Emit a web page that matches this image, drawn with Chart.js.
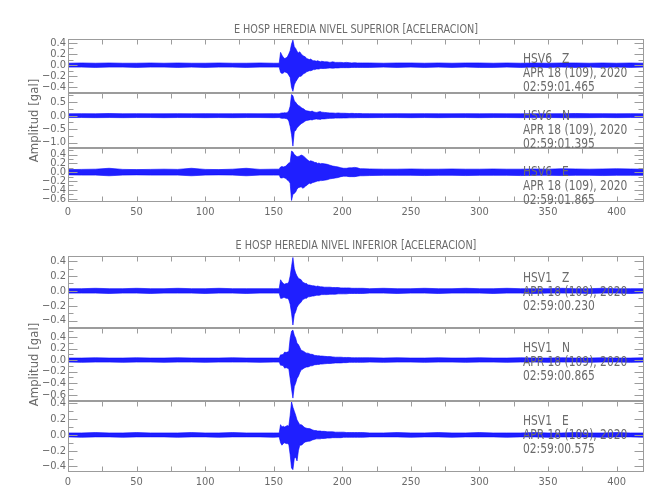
<!DOCTYPE html>
<html>
<head>
<meta charset="utf-8">
<title>E HOSP HEREDIA - aceleracion</title>
<script src="https://cdn.jsdelivr.net/npm/chart.js@4.4.1/dist/chart.umd.min.js"></script>
<style>
    body { margin: 0; background: #fff; }
    #page {
        position: relative;
        width: 650px;
        height: 500px;
        overflow: hidden;
        background: #fff;
        font-family: "DejaVu Sans Condensed", "Liberation Sans Narrow", sans-serif;
        color: #6b6b6b;
    }
    #page canvas { position: absolute; left: 0; }
    .group-title {
        position: absolute;
        left: 68px;
        width: 576px;
        text-align: center;
        font-size: 12.5px;
        line-height: 14px;
        white-space: pre;
    }
    .group-title span {
        display: inline-block;
        transform: scaleX(0.86);
        transform-origin: center;
    }
    .note {
        position: absolute;
        left: 523px;
        font-size: 13.5px;
        line-height: 14px;
        white-space: pre;
        transform: scaleX(0.88);
        transform-origin: left top;
    }
</style>
</head>
<body>
<div id="page"></div>
<script>
// Time axis (seconds) shared by all six traces
const seconds = [
    0, 10, 20, 30, 40, 50, 60, 70, 80, 90, 100, 110, 120, 130, 140, 150,
    154,
    155, 156, 157, 158, 159, 160, 161, 162, 163, 164, 165, 166, 167, 168, 169, 170,
    171, 172, 173, 174, 175, 176, 177, 178, 179, 180, 181, 182, 183, 184, 185,
    187, 189, 191, 193, 195, 197, 199, 201, 203, 205, 207, 209, 211, 213, 215,
    220, 230, 240, 250, 260, 270, 280, 290, 300, 310, 320, 330, 340, 350, 360, 370, 380, 390, 400, 410, 420
];
const timeTicks = [0, 50, 100, 150, 200, 250, 300, 350, 400];

// Envelope (max / min) of each trace in gal, read per time step
const hsv6ZUpper = [
    0.035, 0.04, 0.035, 0.04, 0.035, 0.035, 0.04, 0.035, 0.04, 0.035, 0.035, 0.04, 0.035, 0.035, 0.04, 0.035,
    0.035,
    0.23, 0.18, 0.14, 0.12, 0.13, 0.15, 0.2, 0.26, 0.38, 0.45, 0.33, 0.3, 0.25, 0.22, 0.24, 0.2,
    0.18, 0.16, 0.15, 0.12, 0.11, 0.1, 0.11, 0.09, 0.08, 0.08, 0.07, 0.08, 0.07, 0.06, 0.07,
    0.06, 0.06, 0.05, 0.06, 0.05, 0.05, 0.05, 0.045, 0.05, 0.045, 0.04, 0.045, 0.04, 0.04, 0.04,
    0.04, 0.035, 0.04, 0.04, 0.035, 0.04, 0.035, 0.04, 0.04, 0.035, 0.04, 0.035, 0.04, 0.035, 0.04, 0.04, 0.035, 0.04, 0.035, 0.04, 0.035
];
const hsv6ZLower = [
    -0.035, -0.035, -0.04, -0.035, -0.035, -0.04, -0.035, -0.035, -0.04, -0.035, -0.04, -0.035, -0.035, -0.04, -0.035, -0.035,
    -0.035,
    -0.13, -0.15, -0.14, -0.12, -0.13, -0.14, -0.18, -0.22, -0.4, -0.47, -0.35, -0.3, -0.26, -0.22, -0.2, -0.2,
    -0.17, -0.15, -0.14, -0.12, -0.11, -0.1, -0.1, -0.09, -0.08, -0.08, -0.07, -0.07, -0.07, -0.06, -0.06,
    -0.06, -0.055, -0.05, -0.055, -0.05, -0.05, -0.045, -0.045, -0.045, -0.045, -0.04, -0.04, -0.04, -0.04, -0.04,
    -0.04, -0.035, -0.04, -0.035, -0.04, -0.035, -0.04, -0.035, -0.04, -0.04, -0.035, -0.04, -0.035, -0.04, -0.035, -0.04, -0.035, -0.04, -0.035, -0.04, -0.035
];
const hsv6NUpper = [
    0.07, 0.075, 0.07, 0.08, 0.07, 0.075, 0.07, 0.07, 0.075, 0.07, 0.075, 0.07, 0.07, 0.075, 0.07, 0.075,
    0.07,
    0.09, 0.1, 0.1, 0.11, 0.1, 0.12, 0.18, 0.35, 0.78, 0.74, 0.55, 0.5, 0.42, 0.38, 0.35, 0.3,
    0.27, 0.25, 0.2, 0.18, 0.17, 0.16, 0.15, 0.17, 0.14, 0.13, 0.12, 0.13, 0.14, 0.15, 0.13,
    0.12, 0.11, 0.1, 0.1, 0.09, 0.1, 0.09, 0.09, 0.085, 0.08, 0.085, 0.08, 0.08, 0.08, 0.075,
    0.075, 0.07, 0.075, 0.07, 0.075, 0.07, 0.07, 0.075, 0.07, 0.075, 0.07, 0.07, 0.075, 0.07, 0.075, 0.08, 0.075, 0.075, 0.07, 0.075, 0.07
];
const hsv6NLower = [
    -0.07, -0.07, -0.075, -0.07, -0.075, -0.07, -0.07, -0.075, -0.07, -0.07, -0.075, -0.07, -0.075, -0.07, -0.07, -0.075,
    -0.07,
    -0.09, -0.1, -0.1, -0.1, -0.11, -0.12, -0.2, -0.4, -0.7, -1.13, -0.6, -0.55, -0.45, -0.4, -0.35, -0.3,
    -0.27, -0.24, -0.2, -0.18, -0.17, -0.16, -0.15, -0.16, -0.14, -0.13, -0.12, -0.13, -0.13, -0.14, -0.12,
    -0.12, -0.11, -0.1, -0.1, -0.09, -0.09, -0.09, -0.085, -0.085, -0.08, -0.08, -0.08, -0.075, -0.075, -0.075,
    -0.075, -0.07, -0.07, -0.075, -0.07, -0.075, -0.07, -0.07, -0.075, -0.07, -0.07, -0.075, -0.07, -0.07, -0.075, -0.08, -0.075, -0.07, -0.075, -0.07, -0.07
];
const hsv6EUpper = [
    0.06, 0.065, 0.07, 0.09, 0.065, 0.06, 0.065, 0.07, 0.065, 0.09, 0.065, 0.06, 0.07, 0.09, 0.065, 0.07,
    0.07,
    0.12, 0.13, 0.12, 0.13, 0.14, 0.18, 0.21, 0.22, 0.48, 0.46, 0.4, 0.38, 0.35, 0.36, 0.37, 0.39,
    0.38, 0.36, 0.33, 0.3, 0.27, 0.25, 0.26, 0.25, 0.24, 0.22, 0.22, 0.2, 0.21, 0.19, 0.2,
    0.19, 0.18, 0.16, 0.14, 0.13, 0.12, 0.1, 0.09, 0.09, 0.1, 0.1, 0.11, 0.1, 0.08, 0.08,
    0.075, 0.07, 0.07, 0.075, 0.07, 0.07, 0.075, 0.07, 0.07, 0.075, 0.07, 0.07, 0.075, 0.07, 0.08, 0.075, 0.07, 0.075, 0.08, 0.075, 0.07
];
const hsv6ELower = [
    -0.06, -0.065, -0.065, -0.08, -0.065, -0.06, -0.065, -0.065, -0.065, -0.08, -0.065, -0.06, -0.065, -0.08, -0.065, -0.065,
    -0.065,
    -0.13, -0.13, -0.12, -0.13, -0.14, -0.18, -0.2, -0.25, -0.64, -0.5, -0.48, -0.45, -0.38, -0.35, -0.34, -0.33,
    -0.36, -0.35, -0.32, -0.3, -0.27, -0.25, -0.26, -0.24, -0.23, -0.22, -0.21, -0.2, -0.2, -0.19, -0.19,
    -0.18, -0.17, -0.15, -0.14, -0.13, -0.12, -0.1, -0.09, -0.09, -0.1, -0.1, -0.1, -0.09, -0.08, -0.08,
    -0.075, -0.07, -0.07, -0.07, -0.075, -0.07, -0.07, -0.075, -0.07, -0.07, -0.07, -0.075, -0.07, -0.07, -0.075, -0.07, -0.07, -0.075, -0.07, -0.07, -0.07
];
const hsv1ZUpper = [
    0.03, 0.03, 0.035, 0.03, 0.03, 0.035, 0.03, 0.03, 0.035, 0.03, 0.03, 0.035, 0.03, 0.03, 0.03, 0.03,
    0.03,
    0.15, 0.12, 0.1, 0.09, 0.1, 0.1, 0.12, 0.2, 0.33, 0.45, 0.3, 0.24, 0.2, 0.17, 0.16, 0.15,
    0.12, 0.11, 0.1, 0.1, 0.08, 0.08, 0.075, 0.07, 0.07, 0.065, 0.06, 0.065, 0.06, 0.055, 0.055,
    0.05, 0.05, 0.05, 0.045, 0.045, 0.045, 0.04, 0.04, 0.04, 0.04, 0.035, 0.035, 0.035, 0.035, 0.035,
    0.03, 0.035, 0.03, 0.03, 0.035, 0.03, 0.03, 0.035, 0.03, 0.03, 0.035, 0.03, 0.03, 0.03, 0.035, 0.03, 0.03, 0.035, 0.03, 0.03, 0.03
];
const hsv1ZLower = [
    -0.03, -0.03, -0.03, -0.035, -0.03, -0.03, -0.035, -0.03, -0.03, -0.03, -0.035, -0.03, -0.03, -0.035, -0.03, -0.03,
    -0.03,
    -0.1, -0.1, -0.09, -0.09, -0.1, -0.1, -0.12, -0.18, -0.3, -0.46, -0.32, -0.28, -0.22, -0.19, -0.17, -0.15,
    -0.12, -0.11, -0.1, -0.1, -0.08, -0.08, -0.075, -0.07, -0.07, -0.065, -0.06, -0.06, -0.06, -0.055, -0.05,
    -0.05, -0.05, -0.045, -0.045, -0.045, -0.04, -0.04, -0.04, -0.04, -0.035, -0.035, -0.035, -0.035, -0.035, -0.035,
    -0.03, -0.03, -0.035, -0.03, -0.03, -0.035, -0.03, -0.03, -0.03, -0.035, -0.03, -0.03, -0.035, -0.03, -0.03, -0.03, -0.035, -0.03, -0.03, -0.035, -0.03
];
const hsv1NUpper = [
    0.035, 0.035, 0.04, 0.035, 0.035, 0.04, 0.035, 0.035, 0.04, 0.035, 0.035, 0.035, 0.04, 0.035, 0.035, 0.035,
    0.035,
    0.09, 0.09, 0.1, 0.14, 0.13, 0.14, 0.15, 0.38, 0.5, 0.52, 0.43, 0.38, 0.29, 0.27, 0.22, 0.17,
    0.16, 0.15, 0.13, 0.12, 0.12, 0.11, 0.1, 0.1, 0.09, 0.08, 0.08, 0.075, 0.075, 0.07, 0.07,
    0.065, 0.06, 0.06, 0.055, 0.05, 0.05, 0.05, 0.045, 0.045, 0.045, 0.04, 0.04, 0.04, 0.04, 0.04,
    0.04, 0.035, 0.04, 0.035, 0.035, 0.04, 0.035, 0.035, 0.04, 0.035, 0.035, 0.04, 0.035, 0.035, 0.04, 0.035, 0.035, 0.04, 0.035, 0.035, 0.04
];
const hsv1NLower = [
    -0.035, -0.04, -0.035, -0.035, -0.04, -0.035, -0.035, -0.04, -0.035, -0.035, -0.04, -0.035, -0.035, -0.035, -0.04, -0.035,
    -0.035,
    -0.09, -0.09, -0.1, -0.14, -0.13, -0.14, -0.15, -0.32, -0.5, -0.66, -0.46, -0.4, -0.32, -0.28, -0.22, -0.17,
    -0.16, -0.14, -0.13, -0.12, -0.12, -0.11, -0.1, -0.1, -0.09, -0.08, -0.08, -0.075, -0.075, -0.07, -0.07,
    -0.065, -0.06, -0.06, -0.055, -0.05, -0.05, -0.05, -0.045, -0.045, -0.04, -0.04, -0.04, -0.04, -0.04, -0.04,
    -0.035, -0.04, -0.035, -0.035, -0.04, -0.035, -0.035, -0.04, -0.035, -0.035, -0.04, -0.035, -0.035, -0.04, -0.035, -0.035, -0.04, -0.035, -0.035, -0.04, -0.035
];
const hsv1EUpper = [
    0.025, 0.025, 0.03, 0.025, 0.025, 0.03, 0.025, 0.025, 0.025, 0.03, 0.025, 0.025, 0.03, 0.025, 0.025, 0.025,
    0.025,
    0.13, 0.1, 0.11, 0.1, 0.11, 0.12, 0.11, 0.25, 0.42, 0.35, 0.3, 0.25, 0.19, 0.16, 0.13, 0.13,
    0.12, 0.1, 0.09, 0.085, 0.08, 0.08, 0.075, 0.065, 0.06, 0.055, 0.055, 0.05, 0.05, 0.05, 0.045,
    0.045, 0.04, 0.04, 0.04, 0.035, 0.035, 0.035, 0.035, 0.03, 0.03, 0.03, 0.03, 0.03, 0.03, 0.03,
    0.025, 0.025, 0.03, 0.025, 0.025, 0.03, 0.025, 0.025, 0.03, 0.025, 0.025, 0.025, 0.03, 0.025, 0.025, 0.03, 0.025, 0.025, 0.03, 0.025, 0.025
];
const hsv1ELower = [
    -0.025, -0.03, -0.025, -0.025, -0.03, -0.025, -0.025, -0.025, -0.03, -0.025, -0.025, -0.03, -0.025, -0.025, -0.025, -0.03,
    -0.025,
    -0.1, -0.13, -0.11, -0.1, -0.11, -0.11, -0.12, -0.25, -0.42, -0.44, -0.3, -0.28, -0.33, -0.2, -0.13, -0.13,
    -0.12, -0.1, -0.09, -0.085, -0.08, -0.08, -0.075, -0.065, -0.06, -0.055, -0.05, -0.05, -0.05, -0.05, -0.045,
    -0.045, -0.04, -0.04, -0.035, -0.035, -0.035, -0.035, -0.03, -0.03, -0.03, -0.03, -0.03, -0.03, -0.03, -0.03,
    -0.025, -0.025, -0.025, -0.03, -0.025, -0.025, -0.03, -0.025, -0.025, -0.025, -0.03, -0.025, -0.025, -0.03, -0.025, -0.025, -0.025, -0.03, -0.025, -0.025, -0.03
];

// Amplitude axis of each panel (gal)
const yRanges = [[-0.5, 0.47], [-1.2, 0.84], [-0.675, 0.55], [-0.5, 0.47], [-0.71, 0.556], [-0.47, 0.43]];
const yTickValues = [
    [-0.4, -0.2, 0, 0.2, 0.4],
    [-1.0, -0.5, 0, 0.5],
    [-0.6, -0.4, -0.2, 0, 0.2, 0.4],
    [-0.4, -0.2, 0, 0.2, 0.4],
    [-0.6, -0.4, -0.2, 0, 0.2, 0.4],
    [-0.4, -0.2, 0, 0.2, 0.4]
];

// Texts
const groupTitles = ['E HOSP HEREDIA NIVEL SUPERIOR [ACELERACION]', 'E HOSP HEREDIA NIVEL INFERIOR [ACELERACION]'];
const stationLabels = ['HSV6   Z', 'HSV6   N', 'HSV6   E', 'HSV1   Z', 'HSV1   N', 'HSV1   E'];
const recordDate = 'APR 18 (109), 2020';
const startTimes = ['02:59:01.465', '02:59:01.395', '02:59:01.865', '02:59:00.230', '02:59:00.865', '02:59:00.575'];
const yTitle = 'Amplitud [gal]';

// Layout (pixels) and styles
const panelBoxes = [
    { top: 39, height: 54 }, { top: 93, height: 55 }, { top: 148, height: 54 },
    { top: 256, height: 72 }, { top: 328, height: 73 }, { top: 401, height: 71 }
];
const bottomPanels = [2, 5];
const titledPanels = [1, 4];
const majorSteps = [0.2, 0.5, 0.2, 0.2, 0.2, 0.2];
const minorSteps = [0.1, 0.25, 0.1, 0.1, 0.1, 0.1];
const noteTops = [51, 108, 164, 270, 340, 413];
const titleTops = [22, 238];
const AXIS_COLOR = '#9c9c9c';
const TEXT_COLOR = '#6b6b6b';
const TRACE_COLOR = 'rgb(0, 0, 255)';
const FONT_FAMILY = '"DejaVu Sans Condensed", "Liberation Sans Narrow", sans-serif';

const traces = [
    [hsv6ZUpper, hsv6ZLower], [hsv6NUpper, hsv6NLower], [hsv6EUpper, hsv6ELower],
    [hsv1ZUpper, hsv1ZLower], [hsv1NUpper, hsv1NLower], [hsv1EUpper, hsv1ELower]
];

function formatAmplitude(v) {
    if (Math.abs(v) < 1e-9) return '0.0';
    return (v < 0 ? '\u2212' : '') + Math.abs(v).toFixed(1);
}

// Frame box plus inward tick marks (IDL style)
const panelFrame = {
    id: 'panelFrame',
    afterDraw(chart, args, opts) {
        const { ctx, chartArea: a } = chart;
        const x = chart.scales.x;
        const y = chart.scales.y;
        ctx.save();
        ctx.strokeStyle = AXIS_COLOR;
        ctx.lineWidth = 1;
        const left = Math.round(a.left) + 0.5;
        const right = Math.round(a.right) - 0.5;
        const top = Math.round(a.top) + 0.5;
        const bottom = Math.round(a.bottom) - 0.5;
        ctx.strokeRect(left, top, right - left, bottom - top);
        ctx.beginPath();
        for (let t = 25; t < x.max; t += 25) {
            const px = Math.round(x.getPixelForValue(t)) + 0.5;
            ctx.moveTo(px, top);
            ctx.lineTo(px, top + 5);
            if (opts.bottomTicks) {
                ctx.moveTo(px, bottom);
                ctx.lineTo(px, bottom - 5);
            }
        }
        const step = opts.minor;
        for (let k = Math.ceil(y.min / step - 1e-6); k * step <= y.max + 1e-6; k++) {
            const v = k * step;
            const r = v / opts.major;
            const len = Math.abs(r - Math.round(r)) < 1e-6 ? 9 : 5;
            const py = Math.round(y.getPixelForValue(v)) + 0.5;
            ctx.moveTo(left, py);
            ctx.lineTo(left + len, py);
            ctx.moveTo(right, py);
            ctx.lineTo(right - len, py);
        }
        ctx.stroke();
        ctx.restore();
    }
};

const page = document.getElementById('page');

traces.forEach(([upper, lower], i) => {
    const box = panelBoxes[i];
    const isBottom = bottomPanels.includes(i);
    // extra room above/below so the rotated axis title is not cut off
    const pad = titledPanels.includes(i) ? 30 : 10;
    const canvas = document.createElement('canvas');
    canvas.width = 650;
    canvas.height = box.height + pad + (isBottom ? 22 : pad);
    canvas.style.top = (box.top - pad) + 'px';
    page.appendChild(canvas);

    new Chart(canvas, {
        type: 'line',
        data: {
            datasets: [
                {
                    data: seconds.map((t, k) => ({ x: t, y: upper[k] })),
                    borderColor: TRACE_COLOR,
                    backgroundColor: 'rgba(0, 0, 255, 0.88)',
                    borderWidth: 0.6,
                    pointRadius: 0,
                    tension: 0,
                    fill: '+1'
                },
                {
                    data: seconds.map((t, k) => ({ x: t, y: lower[k] })),
                    borderColor: TRACE_COLOR,
                    borderWidth: 0.6,
                    pointRadius: 0,
                    tension: 0,
                    fill: false
                }
            ]
        },
        options: {
            responsive: false,
            animation: false,
            events: [],
            layout: { padding: { top: pad, bottom: isBottom ? 0 : pad, left: 0, right: 6 } },
            plugins: {
                legend: { display: false },
                tooltip: { enabled: false },
                panelFrame: { bottomTicks: isBottom, major: majorSteps[i], minor: minorSteps[i] }
            },
            scales: {
                x: {
                    type: 'linear',
                    min: 0,
                    max: 420,
                    display: isBottom,
                    grid: { display: false, drawTicks: false },
                    border: { display: false },
                    afterBuildTicks: scale => { scale.ticks = timeTicks.map(v => ({ value: v })); },
                    afterFit: scale => { scale.height = isBottom ? 22 : 0; },
                    ticks: {
                        padding: 4,
                        maxRotation: 0,
                        autoSkip: false,
                        color: TEXT_COLOR,
                        font: { family: FONT_FAMILY, size: 11 }
                    }
                },
                y: {
                    type: 'linear',
                    min: yRanges[i][0],
                    max: yRanges[i][1],
                    grid: { display: false, drawTicks: false },
                    border: { display: false },
                    afterBuildTicks: scale => { scale.ticks = yTickValues[i].map(v => ({ value: v })); },
                    afterFit: scale => { scale.width = 68; },
                    ticks: {
                        padding: 2,
                        autoSkip: false,
                        color: TEXT_COLOR,
                        font: { family: FONT_FAMILY, size: 11 },
                        callback: v => formatAmplitude(v)
                    },
                    title: {
                        display: titledPanels.includes(i),
                        text: yTitle,
                        color: TEXT_COLOR,
                        font: { family: FONT_FAMILY, size: 13 },
                        padding: { top: 27, bottom: 0 }
                    }
                }
            }
        },
        plugins: [panelFrame]
    });
});

groupTitles.forEach((text, g) => {
    const div = document.createElement('div');
    div.className = 'group-title';
    div.style.top = titleTops[g] + 'px';
    const span = document.createElement('span');
    span.textContent = text;
    div.appendChild(span);
    page.appendChild(div);
});

stationLabels.forEach((name, i) => {
    const div = document.createElement('div');
    div.className = 'note';
    div.style.top = noteTops[i] + 'px';
    div.textContent = name + '\n' + recordDate + '\n' + startTimes[i];
    page.appendChild(div);
});
</script>
</body>
</html>
